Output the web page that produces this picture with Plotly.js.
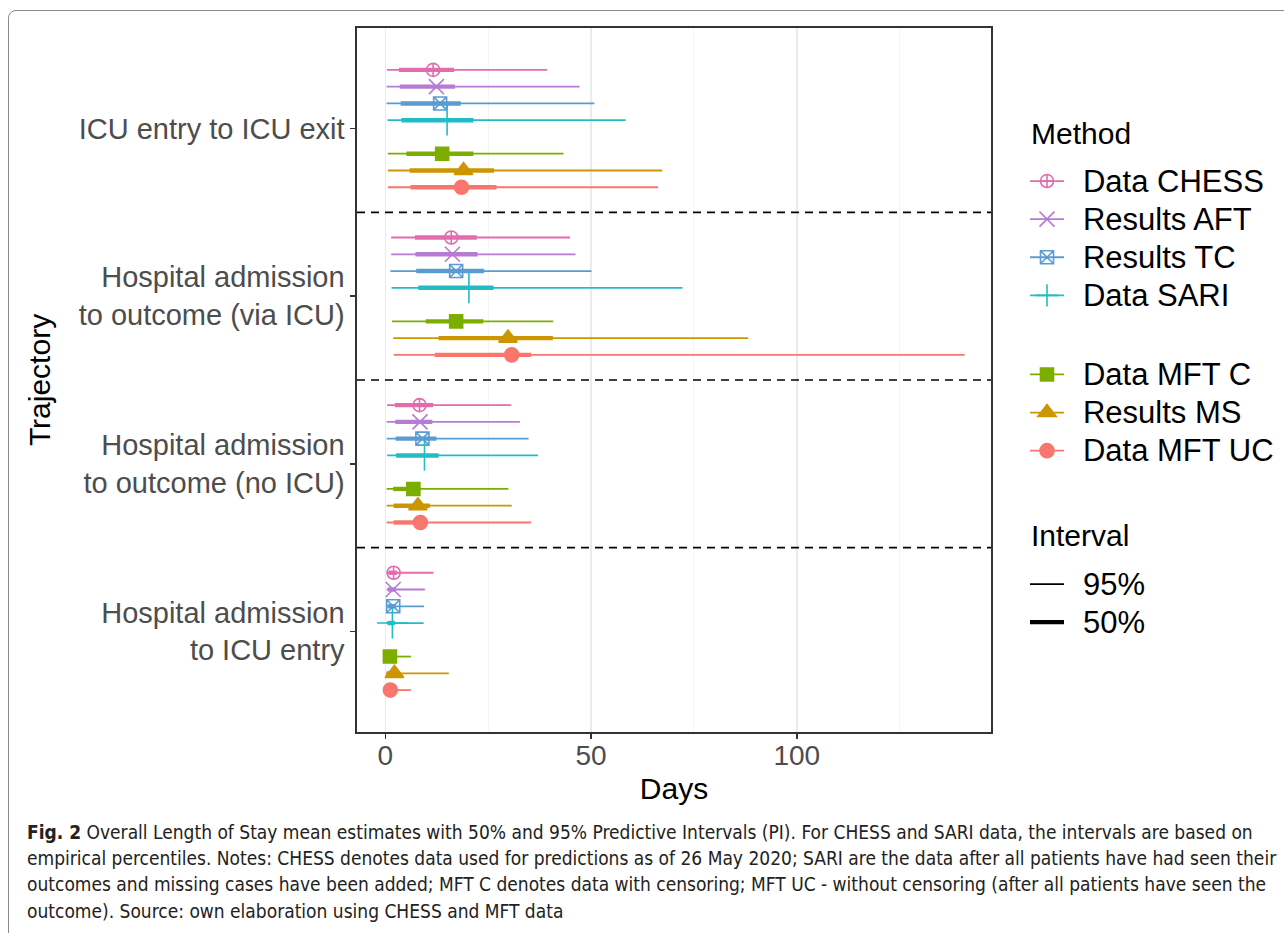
<!DOCTYPE html>
<html>
<head>
<meta charset="utf-8">
<script src="https://cdn.plot.ly/plotly-3.0.1.min.js"></script>
<style>
  html, body { margin: 0; padding: 0; background: #fff; overflow: hidden; }
  #wrap { position: relative; width: 1284px; height: 933px; }
  #frame { position: absolute; left: 8px; top: 10px; width: 1320px; height: 960px;
           border: 1.5px solid #8a8a8a; border-radius: 8px; box-sizing: border-box; pointer-events: none; }
  #chart { position: absolute; left: 0; top: 0; width: 1284px; height: 933px; }
</style>
</head>
<body>
<div id="wrap">
  <div id="chart"></div>
  <div id="frame"></div>
</div>
<script>
// ---------------- DATA ----------------
// Trajectory categories, bottom to top on the y axis
const trajectories = [
  "Hospital admission to ICU entry",
  "Hospital admission to outcome (no ICU)",
  "Hospital admission to outcome (via ICU)",
  "ICU entry to ICU exit"
];
const trajectoryTickLabels = [
  "Hospital admission<br>to ICU entry",
  "Hospital admission<br>to outcome (no ICU)",
  "Hospital admission<br>to outcome (via ICU)",
  "ICU entry to ICU exit"
];
const methods = ["Data CHESS", "Results AFT", "Results TC", "Data SARI", "Data MFT C", "Results MS", "Data MFT UC"];

// values per method (rows) and trajectory (columns, same order as trajectories)
const meanDays = [
  [2.0, 8.3, 16.0, 11.6],
  [1.9, 8.4, 16.3, 12.4],
  [1.9, 9.0, 17.2, 13.3],
  [1.7, 9.5, 20.3, 15.0],
  [1.1, 6.8, 17.2, 13.8],
  [2.2, 7.9, 29.8, 19.0],
  [1.2, 8.5, 30.7, 18.5]
];
const lower95 = [
  [0.3, 0.4, 1.4, 0.4],
  [0.3, 0.3, 1.4, 0.3],
  [0.2, 0.3, 1.2, 0.3],
  [0.2, 0.4, 1.5, 0.5],
  [0.2, 0.3, 1.6, 0.6],
  [0.1, 0.3, 1.9, 0.6],
  [0.2, 0.3, 2.0, 0.6]
];
const upper95 = [
  [11.7, 30.6, 44.9, 39.3],
  [9.6, 32.7, 46.2, 47.2],
  [9.4, 34.8, 50.1, 50.8],
  [9.3, 37.1, 72.2, 58.4],
  [6.2, 29.9, 40.8, 43.3],
  [15.4, 30.7, 88.2, 67.3],
  [6.2, 35.4, 140.8, 66.3]
];
const lower50 = [
  [0.8, 2.3, 7.2, 3.3],
  [0.6, 2.4, 7.3, 3.5],
  [0.6, 2.5, 7.5, 3.7],
  [0.5, 2.6, 8.0, 3.9],
  [0.4, 1.9, 9.8, 5.1],
  [0.3, 2.0, 12.9, 5.9],
  [0.4, 2.0, 12.0, 6.1]
];
const upper50 = [
  [2.8, 11.6, 22.2, 16.7],
  [2.6, 11.4, 22.4, 16.9],
  [2.6, 12.4, 24.0, 18.3],
  [2.3, 12.9, 26.3, 21.4],
  [1.5, 8.5, 23.8, 21.4],
  [3.0, 10.8, 40.7, 26.4],
  [1.6, 9.0, 35.4, 27.0]
];
const xTickValues = [0, 50, 100];
const intervalLabels = ["95%", "50%"];
const legendTitles = ["Method", "Interval"];

// ---------------- STYLE ----------------
const colors = ["#E36BAE", "#B77BD3", "#5A9BD1", "#22BDC4", "#7CAE00", "#CD9600", "#F8766D"];
const symbols = ["circle-cross-open", "x-thin-open", "square-x-open", "cross-thin-open", "square", "triangle-up", "circle"];
const msizes = [13, 15, 13, 22, 13, 16, 14];
const slots = [0, 1, 2, 3, 5, 6, 7];   // dodge slots (slot 4 is empty)
const groups = ["A", "A", "A", "A", "B", "B", "B"];
const W95 = 1.8, W50 = 4.4;
const legendText = t => '<span style="font-size:25px">&nbsp;&nbsp;</span><span style="font-size:31px">' + t + '</span>';

const L = 357, R = 293, T = 28, B = 201, FW = 1284, FH = 933;
const PW = FW - L - R, PH = FH - T - B;
const px2x = p => (p - L) / PW;
const px2y = p => 1 - (p - T) / PH;

const traces = [];
methods.forEach((m, k) => {
  const off = 0.35 - slots[k] * 0.1;
  const x95 = [], y95 = [], x50 = [], y50 = [];
  trajectories.forEach((t, i) => {
    const y = i + 1 + off;
    x95.push(lower95[k][i], upper95[k][i], null); y95.push(y, y, null);
    x50.push(lower50[k][i], upper50[k][i], null); y50.push(y, y, null);
  });
  traces.push({x: x95, y: y95, mode: "lines", line: {color: colors[k], width: W95},
               showlegend: false, hoverinfo: "skip"});
  traces.push({x: x50, y: y50, mode: "lines", line: {color: colors[k], width: W50},
               showlegend: false, hoverinfo: "skip"});
});
methods.forEach((m, k) => {
  const off = 0.35 - slots[k] * 0.1;
  const xm = [], ym = [];
  trajectories.forEach((t, i) => { xm.push(meanDays[k][i], null); ym.push(i + 1 + off, null); });
  traces.push({x: xm, y: ym, name: legendText(m), mode: "lines+markers", connectgaps: false,
               line: {color: colors[k], width: W95},
               marker: {symbol: symbols[k], size: msizes[k], color: colors[k],
                        line: {color: colors[k], width: 1.6}},
               legend: "legend", legendgroup: groups[k]});
});
intervalLabels.forEach((lab, j) => {
  traces.push({x: [null], y: [null], name: legendText(lab), mode: "lines",
               line: {color: "#000", width: j === 0 ? W95 : W50}, legend: "legend2"});
});

const captionLines = [
  "<b>Fig. 2</b> Overall Length of Stay mean estimates with 50% and 95% Predictive Intervals (PI). For CHESS and SARI data, the intervals are based on",
  "empirical percentiles. Notes: CHESS denotes data used for predictions as of 26 May 2020; SARI are the data after all patients have had seen their",
  "outcomes and missing cases have been added; MFT C denotes data with censoring; MFT UC - without censoring (after all patients have seen the",
  "outcome). Source: own elaboration using CHESS and MFT data"
];
const captionY = [832, 858, 884, 911];
const annotations = captionLines.map((t, i) => ({
  text: t, xref: "paper", yref: "paper", x: px2x(25), y: px2y(captionY[i]),
  xanchor: "left", yanchor: "middle", showarrow: false, align: "left",
  font: {family: "Liberation Sans Narrow, DejaVu Sans Condensed, sans-serif", size: 19, color: "#222"}
}));
const legendTitleY = [133, 535];
legendTitles.forEach((t, i) => annotations.push({
  text: t, xref: "paper", yref: "paper", x: px2x(1029), y: px2y(legendTitleY[i]),
  xanchor: "left", yanchor: "middle", showarrow: false,
  font: {family: "Liberation Sans, Arial, sans-serif", size: 30, color: "#000"}
}));

const shapes = [1.5, 2.5, 3.5].map(v => ({
  type: "line", xref: "paper", x0: 0, x1: 1, yref: "y", y0: v, y1: v,
  line: {color: "#000", width: 1.6, dash: "8px,6px"}
}));

const layout = {
  width: FW, height: FH,
  margin: {l: L, r: R, t: T, b: B, pad: 0, autoexpand: false},
  paper_bgcolor: "#fff", plot_bgcolor: "#fff",
  font: {family: "Liberation Sans, Arial, sans-serif", color: "#000"},
  showlegend: true,
  xaxis: {
    range: [-6.9, 147.2], tickvals: xTickValues, ticktext: xTickValues.map(String),
    showgrid: true, gridcolor: "#EBEBEB", gridwidth: 1.5,
    minor: {tickvals: [25, 75, 125], showgrid: true, gridcolor: "#F2F2F2", gridwidth: 0.8, ticks: ""},
    zeroline: false, showline: true, linecolor: "#333", linewidth: 1.6, mirror: true,
    ticks: "outside", ticklen: 5, tickwidth: 1.4, tickcolor: "#333",
    ticklabelstandoff: -7,
    tickfont: {size: 28, color: "#4D4D4D"},
    title: {text: "Days", font: {size: 30, color: "#000"}, standoff: 8}
  },
  yaxis: {
    range: [0.4, 4.6], tickvals: [1, 2, 3, 4], ticktext: trajectoryTickLabels,
    showgrid: false, zeroline: false, showline: true, linecolor: "#333", linewidth: 1.6, mirror: true,
    ticks: "outside", ticklen: 5, tickwidth: 1.4, tickcolor: "#333",
    tickfont: {size: 29, color: "#4D4D4D"},
    title: {text: "Trajectory", font: {size: 30, color: "#000"}, standoff: 19}
  },
  legend: {
    x: px2x(1025), xanchor: "left", y: px2y(157), yanchor: "top",
    font: {size: 27, color: "#000"}, traceorder: "grouped", tracegroupgap: 41,
    bgcolor: "rgba(0,0,0,0)", itemwidth: 34
  },
  legend2: {
    x: px2x(1025), xanchor: "left", y: px2y(560), yanchor: "top",
    font: {size: 27, color: "#000"}, bgcolor: "rgba(0,0,0,0)", itemwidth: 34
  },
  shapes: shapes,
  annotations: annotations
};

Plotly.newPlot("chart", traces, layout, {displayModeBar: false, staticPlot: true});
</script>
</body>
</html>
